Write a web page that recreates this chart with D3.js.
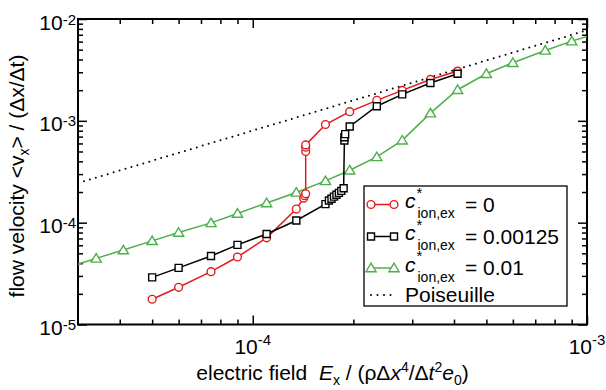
<!DOCTYPE html>
<html lang="en">
<head>
  <meta charset="UTF-8">
  <title>Flow velocity vs electric field</title>
  <script src="https://d3js.org/d3.v7.min.js"></script>
  <style>
    body { margin: 0; background: #fff; }
    svg { font-family: 'Liberation Sans', Arial, Helvetica, sans-serif; }
    .axis line { stroke: #000; stroke-width: 1.5; }
  </style>
</head>
<body>
  <div id="chart"></div>
  <script>
    // c*ion,ex = 0
    const redE = [5e-5, 6e-5, 7.5e-5, 9e-5, 1.1e-4, 1.35e-4, 1.42e-4, 1.43e-4, 1.44e-4, 1.44e-4, 1.44e-4, 1.44e-4,
                  1.65e-4, 1.95e-4, 2.35e-4, 2.8e-4, 3.4e-4, 4.1e-4];
    const redV = [1.77e-5, 2.32e-5, 3.3e-5, 4.6e-5, 7.1e-5, 1.36e-4, 1.74e-4, 1.84e-4, 1.92e-4, 5.0e-4, 5.5e-4, 5.8e-4,
                  9.2e-4, 1.23e-3, 1.59e-3, 1.99e-3, 2.55e-3, 3.08e-3];
    // c*ion,ex = 0.00125
    const blackE = [5e-5, 6e-5, 7.5e-5, 9e-5, 1.1e-4, 1.35e-4, 1.65e-4, 1.69e-4, 1.72e-4, 1.75e-4, 1.78e-4, 1.81e-4,
                    1.84e-4, 1.87e-4, 1.88e-4, 1.88e-4, 1.89e-4, 1.95e-4, 2.35e-4, 2.8e-4, 3.4e-4, 4.1e-4];
    const blackV = [2.9e-5, 3.6e-5, 4.7e-5, 6.05e-5, 7.75e-5, 1.05e-4, 1.52e-4, 1.65e-4, 1.72e-4, 1.8e-4, 1.88e-4, 1.96e-4,
                    2.05e-4, 2.18e-4, 6.4e-4, 6.9e-4, 7.4e-4, 8.8e-4, 1.39e-3, 1.82e-3, 2.35e-3, 2.9e-3];
    // c*ion,ex = 0.01
    const greenE = [2.8e-5, 3.4e-5, 4.1e-5, 5e-5, 6e-5, 7.5e-5, 9e-5, 1.1e-4, 1.35e-4, 1.65e-4, 1.95e-4, 2.35e-4,
                    2.8e-4, 3.4e-4, 4.1e-4, 5e-4, 6e-4, 7.5e-4, 9e-4, 1.1e-3];
    const greenV = [3.65e-5, 4.46e-5, 5.38e-5, 6.63e-5, 8.0e-5, 9.95e-5, 1.23e-4, 1.56e-4, 1.98e-4, 2.57e-4, 3.27e-4, 4.42e-4,
                    6.44e-4, 1.19e-3, 2.02e-3, 2.9e-3, 3.72e-3, 4.91e-3, 6.06e-3, 7.4e-3];
    // Poiseuille
    const poisE = [3e-5, 1e-3];
    const poisV = [2.45e-4, 7.75e-3];

    const xMajor = [1e-4, 1e-3];
    const xMajorExp = ["-4", "-3"];
    const xMinor = [4e-5, 5e-5, 6e-5, 7e-5, 8e-5, 9e-5, 2e-4, 3e-4, 4e-4, 5e-4, 6e-4, 7e-4, 8e-4, 9e-4];
    const yMajor = [1e-5, 1e-4, 1e-3, 1e-2];
    const yMajorExp = ["-5", "-4", "-3", "-2"];
    const yMinor = [2, 3, 4, 5, 6, 7, 8, 9].flatMap(m => [m * 1e-5, m * 1e-4, m * 1e-3]);

    const width = 606, height = 390;
    const margin = { top: 19, right: 19, bottom: 65.5, left: 78 };
    const w = width - margin.left - margin.right;
    const h = height - margin.top - margin.bottom;

    const red = "#e41a1c", green = "#4daf4a", black = "#000";

    const svg = d3.select("#chart").append("svg")
      .attr("width", width)
      .attr("height", height);
    const g = svg.append("g")
      .attr("transform", `translate(${margin.left},${margin.top})`);

    const x = d3.scaleLog().domain([3e-5, 1e-3]).range([0, w]);
    const y = d3.scaleLog().domain([1e-5, 1e-2]).range([h, 0]);

    // inward ticks on all four sides
    function tickRow(axis, values, len, transform) {
      g.append("g")
        .attr("class", "axis")
        .attr("transform", transform)
        .call(axis.tickValues(values).tickSize(-len).tickFormat(""))
        .call(s => s.select(".domain").remove());
    }
    tickRow(d3.axisBottom(x), xMinor, 5, `translate(0,${h})`);
    tickRow(d3.axisBottom(x), xMajor, 9, `translate(0,${h})`);
    tickRow(d3.axisTop(x), xMinor, 5, "translate(0,0)");
    tickRow(d3.axisTop(x), xMajor, 9, "translate(0,0)");
    tickRow(d3.axisLeft(y), yMinor, 5, "translate(0,0)");
    tickRow(d3.axisLeft(y), yMajor, 9, "translate(0,0)");
    tickRow(d3.axisRight(y), yMinor, 5, `translate(${w},0)`);
    tickRow(d3.axisRight(y), yMajor, 9, `translate(${w},0)`);

    g.append("rect")
      .attr("width", w).attr("height", h)
      .attr("fill", "none").attr("stroke", "#000").attr("stroke-width", 2);

    // tick labels 10^n
    xMajor.forEach((v, i) => {
      const t = g.append("text")
        .attr("x", x(v)).attr("y", h + 29.5)
        .attr("text-anchor", "middle")
        .style("font-size", "21px");
      t.append("tspan").text("10");
      t.append("tspan").attr("dy", -9).style("font-size", "15px").text(xMajorExp[i]);
    });
    yMajor.forEach((v, i) => {
      const t = g.append("text")
        .attr("x", -2).attr("y", y(v) + 10.5)
        .attr("text-anchor", "end")
        .style("font-size", "21px");
      t.append("tspan").text("10");
      t.append("tspan").attr("dy", -5).style("font-size", "15px").text(yMajorExp[i]);
    });

    // axis titles
    const xt = g.append("text")
      .attr("x", w / 2).attr("y", h + 55.5)
      .attr("text-anchor", "middle")
      .style("font-size", "21px");
    xt.append("tspan").text("electric field\u00a0\u00a0");
    xt.append("tspan").style("font-style", "italic").text("E");
    xt.append("tspan").attr("dy", 5).style("font-size", "14px").text("x");
    xt.append("tspan").attr("dy", -5).text(" / (ρΔ");
    xt.append("tspan").style("font-style", "italic").text("x");
    xt.append("tspan").attr("dy", -8).style("font-size", "14px").text("4");
    xt.append("tspan").attr("dy", 8).text("/Δ");
    xt.append("tspan").style("font-style", "italic").text("t");
    xt.append("tspan").attr("dy", -8).style("font-size", "14px").text("2");
    xt.append("tspan").attr("dy", 8).style("font-style", "italic").text("e");
    xt.append("tspan").attr("dy", 5).style("font-size", "14px").text("0");
    xt.append("tspan").attr("dy", -5).text(")");

    const yt = svg.append("text")
      .attr("transform", "translate(24,176) rotate(-90)")
      .attr("text-anchor", "middle")
      .style("font-size", "21px");
    yt.append("tspan").text("flow velocity <v");
    yt.append("tspan").attr("dy", 5).style("font-size", "14px").text("x");
    yt.append("tspan").attr("dy", -5).text("> / (Δx/Δt)");

    // data
    g.append("clipPath").attr("id", "plotclip")
      .append("rect").attr("width", w).attr("height", h);
    const plot = g.append("g").attr("clip-path", "url(#plotclip)");

    const line = d3.line().x(d => x(d[0])).y(d => y(d[1]));
    const zip = (a, b) => a.map((v, i) => [v, b[i]]);

    const triPath = "M0,-4.8L5.1,3.7L-5.1,3.7Z";
    const sqPath = "M-3.5,-3.5H3.5V3.5H-3.5Z";

    function drawMarker(sel, kind, color) {
      if (kind === "circle") {
        sel.append("circle").attr("r", 3.9)
          .attr("fill", "#fff").attr("stroke", color).attr("stroke-width", 1.4);
      } else {
        sel.append("path").attr("d", kind === "tri" ? triPath : sqPath)
          .attr("fill", "#fff").attr("stroke", color).attr("stroke-width", 1.4);
      }
    }

    plot.append("path")
      .datum(zip(poisE, poisV))
      .attr("d", line)
      .attr("fill", "none").attr("stroke", "#000")
      .attr("stroke-width", 2).attr("stroke-linecap", "round")
      .attr("stroke-dasharray", "0,6.2");

    const series = [
      { e: greenE, v: greenV, color: green, kind: "tri" },
      { e: redE, v: redV, color: red, kind: "circle" },
      { e: blackE, v: blackV, color: black, kind: "square" }
    ];
    series.forEach(s => {
      const pts = zip(s.e, s.v);
      plot.append("path").datum(pts)
        .attr("d", line)
        .attr("fill", "none").attr("stroke", s.color).attr("stroke-width", 1.5);
      plot.selectAll(null).data(pts).enter().append("g")
        .attr("transform", d => `translate(${x(d[0])},${y(d[1])})`)
        .each(function () { drawMarker(d3.select(this), s.kind, s.color); });
    });

    // legend
    const legend = svg.append("g");
    legend.append("rect")
      .attr("x", 364).attr("y", 186).attr("width", 203).attr("height", 120)
      .attr("fill", "#fff").attr("stroke", "#000").attr("stroke-width", 1.3);

    const legRows = [
      { color: red, kind: "circle", label: "0", cy: 204.5 },
      { color: black, kind: "square", label: "0.00125", cy: 236.5 },
      { color: green, kind: "tri", label: "0.01", cy: 268 }
    ];
    legRows.forEach(r => {
      legend.append("line")
        .attr("x1", 371).attr("x2", 394).attr("y1", r.cy).attr("y2", r.cy)
        .attr("stroke", r.color).attr("stroke-width", 1.5);
      [371, 394].forEach(px => {
        drawMarker(legend.append("g").attr("transform", `translate(${px},${r.cy})`), r.kind, r.color);
      });
      // c*_ion,ex = value, one text element
      const t = legend.append("text").attr("x", 405).attr("y", r.cy + 3.5)
        .style("font-size", "21px");
      t.append("tspan").style("font-style", "italic").text("c");
      t.append("tspan").attr("x", 416.5).attr("dy", -10.5).style("font-size", "15px").text("*");
      t.append("tspan").attr("x", 417.5).attr("dy", 20.5).style("font-size", "14px").text("ion,ex");
      t.append("tspan").attr("x", 465).attr("dy", -6.5).text("= " + r.label);
    });
    legend.append("line")
      .attr("x1", 371).attr("x2", 394).attr("y1", 295).attr("y2", 295)
      .attr("stroke", "#000").attr("stroke-width", 2)
      .attr("stroke-linecap", "round").attr("stroke-dasharray", "0,6.5");
    legend.append("text").attr("x", 405).attr("y", 301.5)
      .style("font-size", "21px").text("Poiseuille");
  </script>
</body>
</html>
